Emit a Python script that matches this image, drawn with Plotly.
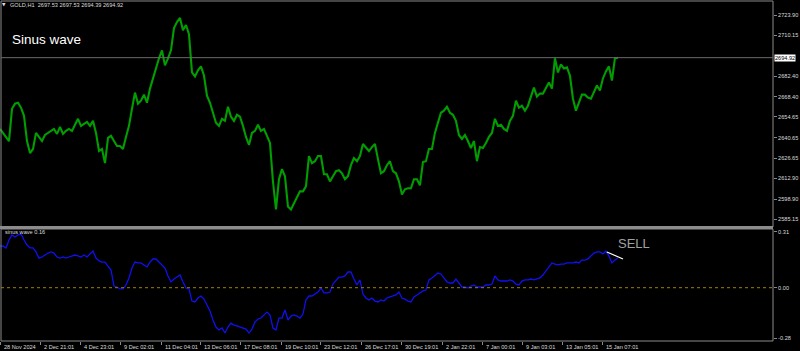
import plotly.graph_objects as go

# ---------------- data ----------------
symbol_header = "GOLD,H1  2697.53 2697.53 2694.39 2694.92"
indicator_header = "sinus wave 0.16"
chart_title = "Sinus wave"
signal_text = "SELL"

# GOLD H1 close prices (sampled along the chart)
price = [
    2646.5, 2643.8, 2640.4, 2638.3, 2660.2, 2663.7, 2664.3, 2660.9, 2655.4, 2638.3,
    2630.1, 2632.9, 2643.8, 2641.1, 2638.3, 2642.4, 2643.8, 2645.2, 2646.5, 2643.1,
    2647.9, 2643.1, 2645.2, 2646.5, 2645.2, 2649.3, 2653.4, 2648.6, 2650.0, 2651.3,
    2648.6, 2652.0, 2643.8, 2631.5, 2632.9, 2623.3, 2640.4, 2641.8, 2638.3, 2634.9,
    2634.9, 2632.9, 2641.1, 2648.6, 2660.2, 2671.2, 2663.7, 2665.7, 2669.8, 2664.3,
    2673.9, 2680.8, 2689.0, 2694.5, 2699.9, 2689.7, 2694.5, 2699.9, 2715.0, 2719.1,
    2721.9, 2713.6, 2717.1, 2710.9, 2684.9, 2682.1, 2686.3, 2689.0, 2682.8, 2669.1,
    2664.3, 2657.5, 2650.7, 2648.6, 2653.4, 2652.0, 2661.6, 2654.8, 2652.0, 2656.1,
    2654.8, 2648.6, 2641.1, 2635.6, 2643.8, 2645.2, 2649.3, 2645.2, 2646.5, 2641.8,
    2637.0, 2610.9, 2591.8, 2612.3, 2619.2, 2614.4, 2593.8, 2591.8, 2595.9, 2599.3,
    2604.1, 2604.1, 2607.5, 2628.1, 2623.3, 2624.6, 2628.1, 2628.1, 2615.7, 2615.7,
    2610.9, 2614.4, 2617.8, 2618.5, 2616.4, 2612.3, 2614.4, 2621.9, 2626.7, 2624.6,
    2628.1, 2636.3, 2633.5, 2631.5, 2634.2, 2636.3, 2626.0, 2616.4, 2617.8, 2621.9,
    2624.6, 2617.8, 2616.4, 2610.9, 2602.0, 2605.5, 2606.2, 2606.2, 2612.3, 2612.3,
    2608.2, 2624.0, 2624.6, 2632.9, 2632.9, 2643.8, 2650.7, 2657.5, 2658.9, 2661.6,
    2657.5, 2656.1, 2652.0, 2642.4, 2639.7, 2642.4, 2638.3, 2633.5, 2638.3, 2624.6,
    2634.2, 2633.5, 2637.0, 2641.1, 2643.8, 2653.4, 2648.6, 2649.3, 2646.5, 2645.2,
    2652.0, 2655.4, 2665.7, 2660.9, 2662.3, 2658.9, 2662.3, 2667.8, 2674.6, 2668.5,
    2670.5, 2670.5, 2673.9, 2678.0, 2673.9, 2694.5, 2684.9, 2690.4, 2687.6, 2688.3,
    2682.8, 2667.1, 2658.9, 2664.3, 2669.8, 2669.8, 2667.8, 2667.1, 2671.2, 2676.0,
    2672.6, 2680.8, 2685.6, 2689.0, 2679.4, 2694.5, 2694.92,
]

# sinus wave oscillator values
sinus = [
    0.231, 0.231, 0.220, 0.264, 0.292, 0.281, 0.292, 0.297, 0.264, 0.236,
    0.220, 0.220, 0.198, 0.164, 0.170, 0.181, 0.192, 0.198, 0.192, 0.170,
    0.164, 0.170, 0.164, 0.170, 0.176, 0.181, 0.176, 0.170, 0.181, 0.170,
    0.187, 0.203, 0.164, 0.148, 0.142, 0.142, 0.120, 0.098, 0.009, 0.004,
    -0.007, -0.007, 0.015, 0.054, 0.109, 0.142, 0.137, 0.137, 0.126, 0.115,
    0.142, 0.159, 0.159, 0.142, 0.126, 0.109, 0.065, 0.032, 0.048, 0.059,
    0.070, 0.032, -0.002, -0.007, -0.074, -0.079, -0.057, -0.046, -0.063, -0.096,
    -0.129, -0.179, -0.218, -0.234, -0.223, -0.251, -0.218, -0.196, -0.207, -0.212,
    -0.218, -0.223, -0.229, -0.251, -0.229, -0.190, -0.173, -0.168, -0.151, -0.135,
    -0.151, -0.223, -0.234, -0.168, -0.168, -0.123, -0.179, -0.157, -0.151, -0.157,
    -0.168, -0.146, -0.068, -0.046, -0.046, -0.035, -0.024, -0.002, -0.029, -0.029,
    -0.024, 0.020, 0.037, 0.059, 0.059, 0.065, 0.087, 0.087, 0.048, 0.015,
    0.043, -0.035, -0.057, -0.068, -0.057, -0.074, -0.079, -0.068, -0.074, -0.057,
    -0.051, -0.046, -0.040, -0.024, -0.057, -0.063, -0.074, -0.079, -0.051, -0.040,
    -0.029, -0.018, -0.013, 0.043, 0.054, 0.065, 0.081, 0.076, 0.054, 0.032,
    0.026, 0.026, 0.048, 0.026, 0.004, 0.004, -0.002, 0.009, 0.015, 0.004,
    0.004, 0.004, 0.015, 0.015, 0.020, 0.065, 0.043, 0.037, 0.037, 0.037,
    0.043, 0.037, 0.020, 0.015, 0.037, 0.043, 0.043, 0.048, 0.043, 0.048,
    0.054, 0.070, 0.092, 0.109, 0.137, 0.131, 0.126, 0.131, 0.131, 0.137,
    0.137, 0.137, 0.142, 0.137, 0.153, 0.153, 0.159, 0.176, 0.192, 0.198,
    0.198, 0.187, 0.203, 0.176, 0.137, 0.153, 0.164,
]

time_labels = ["28 Nov 2024", "2 Dec 21:01", "4 Dec 23:01", "9 Dec 02:01", "11 Dec 04:01",
               "13 Dec 06:01", "17 Dec 08:01", "19 Dec 10:01", "23 Dec 12:01", "26 Dec 17:01",
               "30 Dec 19:01", "2 Jan 22:01", "7 Jan 00:01", "9 Jan 03:01", "13 Jan 05:01",
               "15 Jan 07:01"]
time_label_bar = [0.0, 13.4, 26.8, 40.2, 53.7, 67.0, 80.3, 93.7, 107.0, 120.5,
                  133.9, 147.4, 160.8, 174.1, 187.4, 200.8]

price_ticks = [2723.90, 2710.15, 2682.40, 2668.40, 2654.65, 2640.65, 2626.65,
               2612.90, 2598.90, 2585.15]
last_price = 2694.92
osc_ticks = [0.31, 0.00, -0.28]

sell_bar = [202.3, 207.7]
sell_val = [0.198, 0.159]

# ---------------- layout helpers ----------------
W, H = 800, 351
def px(x):
    return x / W
def py(y):
    return 1 - y / H

bars = list(range(len(price)))
X_RANGE = [0, 257.7]
SMALL = dict(family="Liberation Sans, Arial, sans-serif", size=5.6, color="#dcdcdc")
GRAY = "#8a8a8a"

fig = go.Figure()
fig.add_trace(go.Scatter(x=bars, y=price, mode="lines",
                         line=dict(color="#009e00", width=2.1),
                         xaxis="x", yaxis="y", hoverinfo="skip", showlegend=False))
fig.add_trace(go.Scatter(x=list(range(len(sinus))), y=sinus, mode="lines",
                         line=dict(color="#1010f0", width=1.3),
                         xaxis="x2", yaxis="y2", hoverinfo="skip", showlegend=False))
fig.add_trace(go.Scatter(x=sell_bar, y=sell_val, mode="lines",
                         line=dict(color="#ffffff", width=1.2),
                         xaxis="x2", yaxis="y2", hoverinfo="skip", showlegend=False))

fig.update_layout(
    width=W, height=H, margin=dict(l=0, r=0, t=0, b=0),
    paper_bgcolor="#000000", plot_bgcolor="#000000",
    showlegend=False,
    xaxis=dict(domain=[0, px(773)], range=X_RANGE, anchor="y",
               showgrid=False, zeroline=False, showticklabels=False, ticks=""),
    yaxis=dict(domain=[py(227), py(1)], range=[2579.91, 2733.41], anchor="x",
               side="right", showgrid=False, zeroline=False,
               tickmode="array", tickvals=price_ticks,
               ticktext=[f"{v:.2f}" for v in price_ticks],
               ticks="outside", ticklen=3, tickcolor=GRAY, tickfont=SMALL),
    xaxis2=dict(domain=[0, px(773)], range=X_RANGE, anchor="y2",
                showgrid=False, zeroline=False, showticklabels=False,
                tickmode="array", tickvals=time_label_bar,
                ticks="outside", ticklen=3, tickcolor=GRAY),
    yaxis2=dict(domain=[py(341), py(229)], range=[-0.2951, 0.3250], anchor="x2",
                side="right", showgrid=False, zeroline=False,
                tickmode="array", tickvals=osc_ticks,
                ticktext=[f"{v:.2f}" for v in osc_ticks],
                ticks="outside", ticklen=3, tickcolor=GRAY, tickfont=SMALL),
)

shapes = [
    # frames
    dict(type="rect", xref="paper", yref="paper", x0=px(1), x1=px(773), y0=py(227), y1=py(1),
         line=dict(color=GRAY, width=1)),
    dict(type="rect", xref="paper", yref="paper", x0=px(1), x1=px(773), y0=py(341), y1=py(229),
         line=dict(color=GRAY, width=1)),
    dict(type="line", xref="paper", yref="paper", x0=px(0), x1=px(773), y0=py(227.5), y1=py(227.5),
         line=dict(color="#8c8c8c", width=3)),
    # last price line
    dict(type="line", xref="paper", yref="y", x0=px(1), x1=px(773), y0=last_price, y1=last_price,
         line=dict(color="#6a6a6a", width=1)),
    # zero level in oscillator
    dict(type="line", xref="paper", yref="y2", x0=px(1), x1=px(773), y0=0, y1=0,
         line=dict(color="#a08000", width=1, dash="dot")),
]
fig.update_layout(shapes=shapes)

ann = [
    dict(text="▼", x=px(3.5), y=py(5), xref="paper", yref="paper", xanchor="center", yanchor="middle",
         showarrow=False, font=dict(family="DejaVu Sans", size=4.5, color="#dcdcdc")),
    dict(text=symbol_header, x=px(8), y=py(5), xref="paper", yref="paper", xanchor="left", yanchor="middle",
         showarrow=False, font=SMALL),
    dict(text=chart_title, x=px(9.5), y=py(39), xref="paper", yref="paper", xanchor="left", yanchor="middle",
         showarrow=False, font=dict(family="Liberation Sans, Arial, sans-serif", size=13.5, color="#ffffff")),
    dict(text=indicator_header, x=px(2.5), y=py(232), xref="paper", yref="paper", xanchor="left",
         yanchor="middle", showarrow=False, font=SMALL),
    dict(text=signal_text, x=px(616), y=py(243), xref="paper", yref="paper", xanchor="left",
         yanchor="middle", showarrow=False,
         font=dict(family="Liberation Sans, Arial, sans-serif", size=13, color="#a0a0a0")),
    dict(text=f"{last_price:.2f}", x=px(774), y=last_price, xref="paper", yref="y", xanchor="left",
         yanchor="middle", showarrow=False, bgcolor="#ffffff", borderpad=0,
         font=dict(family="Liberation Sans, Arial, sans-serif", size=5.6, color="#000000")),
]
for t, b in zip(time_labels, time_label_bar):
    ann.append(dict(text=t, x=b, y=py(346.5), xref="x2", yref="paper", xanchor="left",
                    yanchor="middle", xshift=1.5, showarrow=False, font=SMALL))
fig.update_layout(annotations=ann)

fig.write_html("out.html")
